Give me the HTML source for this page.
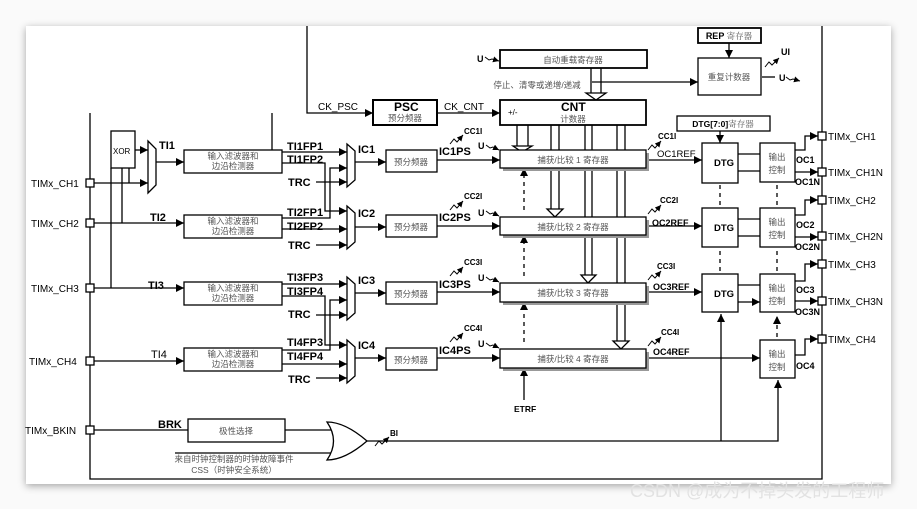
<!DOCTYPE html>
<html><head><meta charset="utf-8"><style>
html,body{margin:0;padding:0;background:#fff;}
svg{display:block;}
text{font-family:"Liberation Sans","Noto Sans CJK SC",sans-serif;}
.c{font-family:"Noto Serif CJK SC","Noto Sans CJK SC",serif;fill:#555;font-size:8.5px;}
.b{font-weight:bold;font-size:11px;}
</style></head><body>
<svg width="917" height="509" viewBox="0 0 917 509" xmlns="http://www.w3.org/2000/svg">
<defs>
<marker id="a" viewBox="0 0 10 10" refX="10" refY="5" markerWidth="8" markerHeight="8" markerUnits="userSpaceOnUse" orient="auto"><path d="M0,0L10,5L0,10z" fill="#000"/></marker>
<marker id="m" viewBox="0 0 10 10" refX="10" refY="5" markerWidth="6" markerHeight="6" markerUnits="userSpaceOnUse" orient="auto"><path d="M0,0L10,5L0,10z" fill="#000"/></marker>
<filter id="sh" x="-5%" y="-5%" width="110%" height="110%"><feDropShadow dx="0" dy="2" stdDeviation="4" flood-color="#000" flood-opacity="0.35"/></filter>
</defs>
<rect x="0" y="0" width="917" height="509" fill="#fafafa"/>
<rect x="26" y="26" width="865" height="458" fill="#fff" filter="url(#sh)"/>
<g stroke="#000" stroke-width="1.3" fill="none">
<path d="M90 113V479H822V26"/>
<path d="M307 26V113H373" marker-end="url(#a)"/>
<path d="M437 113H500" marker-end="url(#a)"/>
<path d="M111 168V288"/>
<path d="M122 168V223"/><path d="M129 168V183"/>
<path d="M94 183H148" marker-end="url(#a)"/>
<path d="M94 223H184" marker-end="url(#a)"/>
<path d="M94 288H184" marker-end="url(#a)"/>
<path d="M94 361H184" marker-end="url(#a)"/>
<path d="M135 150H148" marker-end="url(#a)"/>
<path d="M156 162H184" marker-end="url(#a)"/>
<path d="M272 113V150"/>
<path d="M282 152H347" marker-end="url(#a)"/>
<path d="M282 163H325V211H347" marker-end="url(#a)"/>
<path d="M282 218H330V168H347" marker-end="url(#a)"/>
<path d="M282 229H347" marker-end="url(#a)"/>
<path d="M316 182H347" marker-end="url(#a)"/>
<path d="M316 245H347" marker-end="url(#a)"/>
<path d="M282 284H347" marker-end="url(#a)"/>
<path d="M282 296H325V345H347" marker-end="url(#a)"/>
<path d="M282 350H330V300H347" marker-end="url(#a)"/>
<path d="M282 364H347" marker-end="url(#a)"/>
<path d="M316 315H347" marker-end="url(#a)"/>
<path d="M316 378H347" marker-end="url(#a)"/>
<path d="M355 162H386" marker-end="url(#a)"/>
<path d="M355 227H386" marker-end="url(#a)"/>
<path d="M355 293H386" marker-end="url(#a)"/>
<path d="M355 358H386" marker-end="url(#a)"/>
<path d="M437 160H500" marker-end="url(#a)"/>
<path d="M437 226H500" marker-end="url(#a)"/>
<path d="M437 292H500" marker-end="url(#a)"/>
<path d="M437 358H500" marker-end="url(#a)"/>
<path d="M517 125V146M528 125V146" /><path d="M513 146H532L522 152Z" fill="#fff"/>
<path d="M551 125V209M559 125V209"/><path d="M547 209H563L555 217Z" fill="#fff"/>
<path d="M585 125V275M592 125V275"/><path d="M581 275H596L588 283Z" fill="#fff"/>
<path d="M617 125V341M625 125V341"/><path d="M613 341H629L621 349Z" fill="#fff"/>
<path d="M591 68V93M601 68V93"/><path d="M586 93H606L596 100Z" fill="#fff"/>
<path d="M592 82H698" marker-end="url(#a)"/>
<path d="M729 43V58" marker-end="url(#a)"/>
<path d="M762 77H775"/>
<path d="M524 210V168" stroke-dasharray="4,4" marker-end="url(#a)"/>
<path d="M524 276V235" stroke-dasharray="4,4" marker-end="url(#a)"/>
<path d="M524 342V302" stroke-dasharray="4,4" marker-end="url(#a)"/>
<path d="M524 400V368" marker-end="url(#a)"/>
<path d="M646 160H702" marker-end="url(#a)"/>
<path d="M646 226H702" marker-end="url(#a)"/>
<path d="M646 292H702" marker-end="url(#a)"/>
<path d="M646 358H760" marker-end="url(#a)"/>
<path d="M720 131V143" marker-end="url(#a)"/>
<path d="M738 154H760M738 171H760M738 219H760M738 236H760M738 285H760M738 302H760" marker-end="url(#a)"/>
<path d="M720 205V185M777 205V185M720 271V250M777 271V250M777 337V316" stroke-dasharray="4,4" marker-end="url(#a)"/>
<path d="M721 441V314" marker-end="url(#a)"/>
<path d="M367 441H778V380" marker-end="url(#a)"/>
<path d="M795 150H805V136H818" marker-end="url(#a)"/>
<path d="M795 172H818" marker-end="url(#a)"/>
<path d="M795 215H805V200H818" marker-end="url(#a)"/>
<path d="M795 237H818" marker-end="url(#a)"/>
<path d="M795 281H805V264H818" marker-end="url(#a)"/>
<path d="M795 301H818" marker-end="url(#a)"/>
<path d="M795 355H805V339H818" marker-end="url(#a)"/>
<path d="M94 430H188M285 430H332M175 453H334"/>
<path d="M327 422Q345 422 367 441Q345 460 327 460Q340 441 327 422Z" fill="#fff"/>
</g>
<g stroke="#000" stroke-width="1" fill="none">
<path d="M450 144L454 139L457 142L463 135" marker-end="url(#m)"/>
<path d="M450 210L454 205L457 208L463 201" marker-end="url(#m)"/>
<path d="M450 276L454 271L457 274L463 267" marker-end="url(#m)"/>
<path d="M450 342L454 337L457 340L463 333" marker-end="url(#m)"/>
<path d="M648 150L652 145L655 148L661 141" marker-end="url(#m)"/>
<path d="M648 214L652 209L655 212L661 205" marker-end="url(#m)"/>
<path d="M648 280L652 275L655 278L661 271" marker-end="url(#m)"/>
<path d="M648 346L652 341L655 344L661 337" marker-end="url(#m)"/>
<path d="M765 67L769 62L772 65L779 58" marker-end="url(#m)"/>
<path d="M375 446L379 441L382 444L389 437" marker-end="url(#m)"/>
<path d="M486 145L490 148L493 147L499 150" marker-end="url(#m)"/>
<path d="M486 211L490 214L493 213L499 216" marker-end="url(#m)"/>
<path d="M486 277L490 280L493 279L499 282" marker-end="url(#m)"/>
<path d="M486 343L490 346L493 345L499 348" marker-end="url(#m)"/>
<path d="M485 57L489 60L492 59L499 61" marker-end="url(#m)"/>
<path d="M786 77L790 80L793 79L800 81" marker-end="url(#m)"/>
</g>
<g stroke="#000" stroke-width="1.3" fill="#fff">
<rect x="86" y="179" width="8" height="8"/><rect x="86" y="219" width="8" height="8"/>
<rect x="86" y="284" width="8" height="8"/><rect x="86" y="357" width="8" height="8"/>
<rect x="86" y="426" width="8" height="8"/>
<rect x="818" y="132" width="8" height="8"/><rect x="818" y="168" width="8" height="8"/>
<rect x="818" y="196" width="8" height="8"/><rect x="818" y="232" width="8" height="8"/>
<rect x="818" y="260" width="8" height="8"/><rect x="818" y="297" width="8" height="8"/>
<rect x="818" y="335" width="8" height="8"/>
<rect x="111" y="131" width="24" height="37"/>
<path d="M148 141L156 149V185L148 193Z"/>
<path d="M347 144L355 151V180L347 187Z"/><path d="M347 206L355 213V242L347 249Z"/>
<path d="M347 277L355 284V313L347 320Z"/><path d="M347 340L355 347V376L347 383Z"/>
<rect x="184" y="150" width="98" height="23"/><rect x="184" y="215" width="98" height="23"/>
<rect x="184" y="282" width="98" height="23"/><rect x="184" y="348" width="98" height="23"/>
<rect x="386" y="150" width="51" height="22"/><rect x="386" y="215" width="51" height="22"/>
<rect x="386" y="282" width="51" height="22"/><rect x="386" y="348" width="51" height="22"/>
<rect x="373" y="100" width="64" height="25" stroke-width="2"/>
<rect x="500" y="50" width="147" height="18" stroke-width="1.8"/>
<rect x="500" y="100" width="146" height="25" stroke-width="1.8"/>
<rect x="698" y="28" width="63" height="15" stroke-width="1.8"/>
<rect x="698" y="58" width="63" height="37"/>
<rect x="677" y="116" width="93" height="15"/>
<g fill="#999" stroke="none"><rect x="503" y="153" width="146" height="18"/><rect x="503" y="220" width="146" height="18"/><rect x="503" y="286" width="146" height="19"/><rect x="503" y="352" width="146" height="19"/></g>
<rect x="500" y="150" width="146" height="18"/><rect x="500" y="217" width="146" height="18"/>
<rect x="500" y="283" width="146" height="19"/><rect x="500" y="349" width="146" height="19"/>
<rect x="702" y="143" width="36" height="40"/><rect x="702" y="208" width="36" height="39"/><rect x="702" y="274" width="36" height="38"/>
<rect x="760" y="143" width="35" height="39"/><rect x="760" y="208" width="35" height="39"/>
<rect x="760" y="274" width="35" height="38"/><rect x="760" y="340" width="35" height="38"/>
<rect x="188" y="419" width="97" height="23"/>
</g>
<g font-size="10">
<text x="31" y="187">TIMx_CH1</text><text x="31" y="227">TIMx_CH2</text>
<text x="31" y="292">TIMx_CH3</text><text x="29" y="365">TIMx_CH4</text>
<text x="25" y="434">TIMx_BKIN</text>
<text x="828" y="140">TIMx_CH1</text><text x="828" y="176">TIMx_CH1N</text>
<text x="828" y="204">TIMx_CH2</text><text x="828" y="240">TIMx_CH2N</text>
<text x="828" y="268">TIMx_CH3</text><text x="828" y="305">TIMx_CH3N</text>
<text x="828" y="343">TIMx_CH4</text>
<text x="318" y="110">CK_PSC</text><text x="444" y="110">CK_CNT</text>
<text x="508" y="115" font-size="8">+/-</text>
<text x="657" y="157" font-size="9.5">OC1REF</text>
</g>
<text x="113" y="154" font-size="8">XOR</text>
<g class="b">
<text x="159" y="149">TI1</text><text x="150" y="221">TI2</text><text x="148" y="289">TI3</text>
<text x="151" y="358" font-weight="normal">TI4</text>
<text x="287" y="150">TI1FP1</text><text x="287" y="163">TI1FP2</text><text x="288" y="186">TRC</text>
<text x="287" y="216">TI2FP1</text><text x="287" y="230">TI2FP2</text><text x="288" y="249">TRC</text>
<text x="287" y="281">TI3FP3</text><text x="287" y="295">TI3FP4</text><text x="288" y="318">TRC</text>
<text x="287" y="346">TI4FP3</text><text x="287" y="360">TI4FP4</text><text x="288" y="383">TRC</text>
<text x="358" y="153">IC1</text><text x="358" y="217">IC2</text><text x="358" y="284">IC3</text><text x="358" y="349">IC4</text>
<text x="439" y="155">IC1PS</text><text x="439" y="221">IC2PS</text><text x="439" y="288">IC3PS</text><text x="439" y="354">IC4PS</text>
<text x="158" y="428">BRK</text>
<text x="394" y="111" font-size="12">PSC</text>
<text x="561" y="111" font-size="12">CNT</text>
<text x="714" y="166" font-size="9.5">DTG</text><text x="714" y="231" font-size="9.5">DTG</text><text x="714" y="297" font-size="9.5">DTG</text>
</g>
<g font-weight="bold" font-size="9">
<text x="796" y="163">OC1</text><text x="795" y="185">OC1N</text>
<text x="796" y="228">OC2</text><text x="795" y="250">OC2N</text>
<text x="796" y="293">OC3</text><text x="795" y="315">OC3N</text>
<text x="796" y="369">OC4</text>
<text x="652" y="226">OC2REF</text><text x="653" y="290">OC3REF</text><text x="653" y="355">OC4REF</text>
<text x="464" y="134" font-size="8">CC1I</text><text x="464" y="199" font-size="8">CC2I</text><text x="464" y="265" font-size="8">CC3I</text><text x="464" y="331" font-size="8">CC4I</text>
<text x="658" y="139" font-size="8">CC1I</text><text x="660" y="203" font-size="8">CC2I</text><text x="657" y="269" font-size="8">CC3I</text><text x="661" y="335" font-size="8">CC4I</text>
<text x="478" y="149">U</text><text x="478" y="216">U</text><text x="478" y="281">U</text><text x="478" y="347">U</text>
<text x="477" y="62">U</text>
<text x="514" y="412" font-size="8.5">ETRF</text>
<text x="390" y="436" font-size="8">BI</text>
<text x="779" y="81">U</text>
<text x="781" y="55">UI</text>
</g>
<text x="729" y="39" text-anchor="middle" font-size="9" font-weight="bold">REP <tspan class="c" font-weight="normal" fill="#333">寄存器</tspan></text>
<text x="723" y="127" text-anchor="middle" font-size="8.5" font-weight="bold">DTG[7:0]<tspan class="c" font-weight="normal" fill="#333">寄存器</tspan></text>
<g class="c" text-anchor="middle">
<text x="233" y="159">输入滤波器和</text><text x="233" y="169">边沿检测器</text>
<text x="233" y="224">输入滤波器和</text><text x="233" y="234">边沿检测器</text>
<text x="233" y="291">输入滤波器和</text><text x="233" y="301">边沿检测器</text>
<text x="233" y="357">输入滤波器和</text><text x="233" y="367">边沿检测器</text>
<text x="411" y="165">预分频器</text><text x="411" y="230">预分频器</text>
<text x="411" y="297">预分频器</text><text x="411" y="363">预分频器</text>
<text x="405" y="121">预分频器</text>
<text x="573" y="122">计数器</text>
<text x="573" y="63">自动重载寄存器</text>
<text x="729" y="80">重复计数器</text>
<text x="573" y="163">捕获/比较 1 寄存器</text><text x="573" y="230">捕获/比较 2 寄存器</text>
<text x="573" y="296">捕获/比较 3 寄存器</text><text x="573" y="362">捕获/比较 4 寄存器</text>
<text x="777" y="160">输出</text><text x="777" y="173">控制</text>
<text x="777" y="225">输出</text><text x="777" y="238">控制</text>
<text x="777" y="291">输出</text><text x="777" y="304">控制</text>
<text x="777" y="357">输出</text><text x="777" y="370">控制</text>
<text x="236" y="434">极性选择</text>
<text x="234" y="462">来自时钟控制器的时钟故障事件</text>
<text x="234" y="473">CSS（时钟安全系统）</text>
<text x="537" y="88">停止、清零或递增/递减</text>
</g>
<text x="630" y="497" font-size="18" fill="#e2e2e2">CSDN @成为不掉头发的工程师</text>
</svg>
</body></html>
